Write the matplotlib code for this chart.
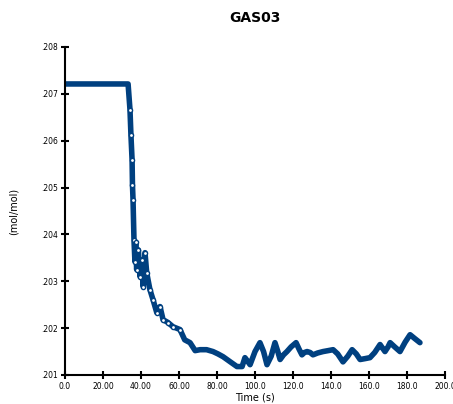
import matplotlib.pyplot as plt

# Time (s) and GAS03 concentration (mol/mol)
time_s = [0.0, 5.0, 10.0, 15.0, 20.0, 25.0, 30.0, 33.2, 34.2, 34.7, 35.3, 35.5,
          35.8, 36.3, 36.8, 37.2, 37.7, 38.6, 39.5, 40.4, 41.2, 42.1, 43.0, 44.7,
          46.3, 48.3, 50.0, 51.6, 54.2, 56.8, 60.5, 63.0, 65.8, 68.5, 71.1, 74.5,
          77.9, 80.5, 83.2, 87.0, 90.5, 93.2, 94.7, 96.0, 97.4, 100.0, 102.6,
          104.5, 106.3, 108.5, 110.5, 112.0, 113.2, 115.0, 116.8, 119.0, 121.6,
          123.2, 124.7, 126.0, 127.4, 129.0, 130.5, 133.0, 135.8, 138.5, 141.1,
          143.5, 146.3, 148.8, 151.1, 153.3, 155.3, 158.0, 160.5, 163.0, 165.8,
          167.0, 168.4, 170.0, 171.1, 173.5, 176.3, 179.0, 181.6, 184.0, 186.8]
gas03 = [0.20721, 0.20721, 0.20721, 0.20721, 0.20721, 0.20721, 0.20721, 0.20721,
         0.20666, 0.20612, 0.20559, 0.20506, 0.20474, 0.20389, 0.20342, 0.20384,
         0.20325, 0.20367, 0.20310, 0.20346, 0.20288, 0.20361, 0.20318, 0.20282,
         0.20261, 0.20233, 0.20246, 0.20218, 0.20212, 0.20203, 0.20197, 0.20175,
         0.20169, 0.20152, 0.20154, 0.20154, 0.20150, 0.20145, 0.20139, 0.20128,
         0.20118, 0.20118, 0.20137, 0.20130, 0.20122, 0.20150, 0.20169,
         0.20150, 0.20122, 0.20140, 0.20169, 0.20150, 0.20133, 0.20143, 0.20150,
         0.20160, 0.20169, 0.20155, 0.20143, 0.20148, 0.20150, 0.20148, 0.20143,
         0.20147, 0.20150, 0.20152, 0.20154, 0.20145, 0.20128, 0.20140, 0.20154,
         0.20145, 0.20133, 0.20135, 0.20137, 0.20148, 0.20165, 0.20158, 0.20150,
         0.20160, 0.20169, 0.20160, 0.20150, 0.20170, 0.20186, 0.20178, 0.20169]

x_ticks = [0, 20, 40, 60, 80, 100, 120, 140, 160, 180, 200]
x_labels = ["0.0", "20.00", "40.00", "60.00", "80.00", "100.0", "120.0",
            "140.0", "160.0", "180.0", "200.0"]
y_ticks = [0.201, 0.202, 0.203, 0.204, 0.205, 0.206, 0.207, 0.208]
y_labels = [".201", ".202", ".203", ".204", ".205", ".206", ".207", ".208"]

fig = plt.figure(figsize=(4.53, 4.04), dpi=100)
ax = fig.add_axes([0.1435, 0.0718, 0.8389, 0.812])

ax.plot(time_s, gas03, color="#004080", linewidth=4, solid_capstyle="round",
        solid_joinstyle="round")
# sample markers only show on the steep drop
ax.plot(time_s[8:31], gas03[8:31], linestyle="none", marker="o", markersize=3,
        markerfacecolor="white", markeredgecolor="#004080", markeredgewidth=1)

ax.set_xlim(0, 200)
ax.set_ylim(0.201, 0.208)
ax.set_xticks(x_ticks)
ax.set_xticklabels(x_labels)
ax.set_yticks(y_ticks)
ax.set_yticklabels(y_labels)

for side in ["top", "right"]:
    ax.spines[side].set_visible(False)
for side in ["left", "bottom"]:
    ax.spines[side].set_linewidth(1.5)
ax.tick_params(direction="inout", length=6, width=1.5, labelsize=5.5, pad=2)

ax.set_title("GAS03", fontsize=10, fontweight="bold", pad=18)
ax.set_xlabel("Time (s)", fontsize=7, labelpad=1)
ax.set_ylabel("(mol/mol)", fontsize=7, labelpad=16)

fig.savefig("out.png", dpi=100)
